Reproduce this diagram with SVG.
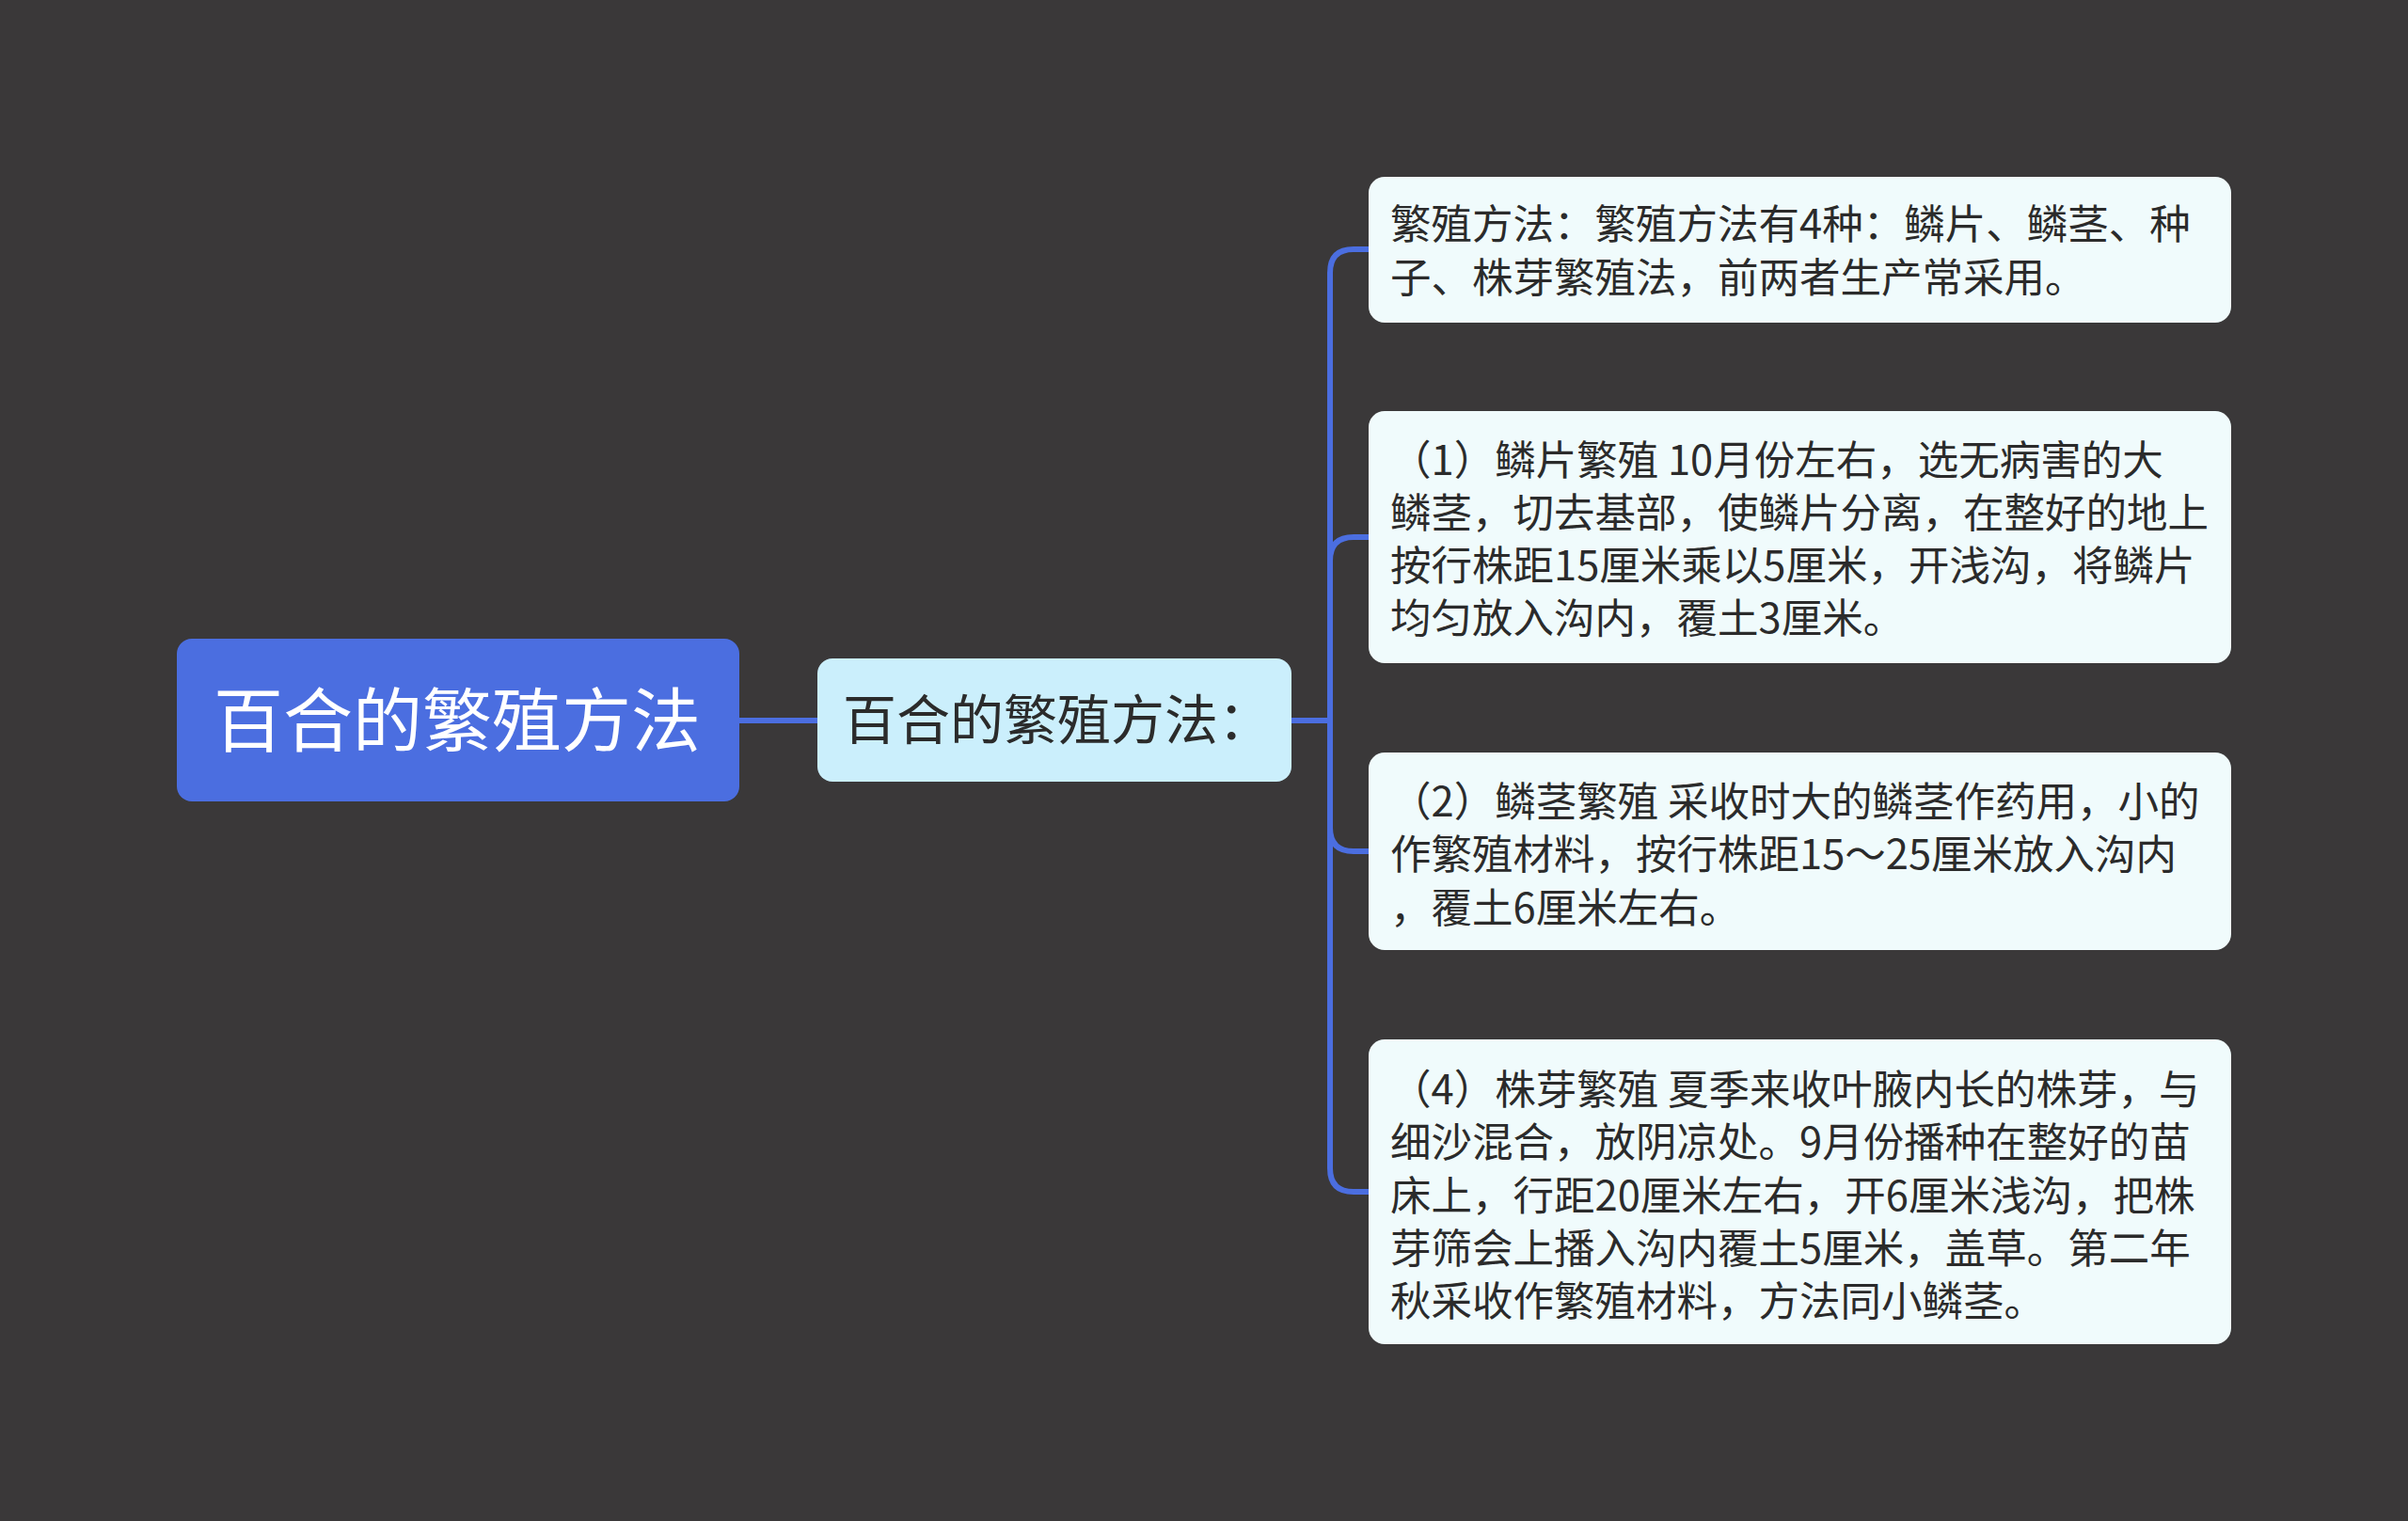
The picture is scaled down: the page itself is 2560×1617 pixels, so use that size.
<svg xmlns="http://www.w3.org/2000/svg" width="2560" height="1617" viewBox="0 0 2560 1617">
<defs>
<style>
.bg{fill:#3a3839}
.conn{fill:none;stroke:#4b6ee0;stroke-width:6;stroke-linejoin:round}
.root{fill:#4b6ee0}
.mid{fill:#cbeffc}
.leaf{fill:#f0fbfc}
.t{font-family:"Noto Sans CJK SC","Noto Sans",sans-serif}
.rt{fill:#ffffff;font-size:74px}
.mt{fill:#2b2b2b;font-size:57px}
.lt{fill:#2b2b2b;font-size:43.5px}
</style>
</defs>
<rect class="bg" x="0" y="0" width="2560" height="1617"/>
<g id="connectors">
<path class="conn" d="M786 766 H869"/>
<path class="conn" d="M1373 766 H1414"/>
<path class="conn" d="M1455 265 H1439 Q1414 265 1414 290 V1242 Q1414 1267 1439 1267 H1455"/>
<path class="conn" d="M1414 596 Q1414 571 1439 571 H1455"/>
<path class="conn" d="M1414 880 Q1414 905 1439 905 H1455"/>
</g>
<g id="root">
<rect class="root" x="188" y="679" width="598" height="173" rx="16"/>
<text class="t rt" x="227" y="793">百合的繁殖方法</text>
</g>
<g id="mid">
<rect class="mid" x="869" y="700" width="504" height="131" rx="16"/>
<text class="t mt" x="896" y="786">百合的繁殖方法：</text>
</g>
<g id="leaf1">
<rect class="leaf" x="1455" y="188" width="917" height="155" rx="17"/>
<text class="t lt" x="1478" y="254">繁殖方法：繁殖方法有4种：鳞片、鳞茎、种</text>
<text class="t lt" x="1478" y="311">子、株芽繁殖法，前两者生产常采用。</text>
</g>
<g id="leaf2">
<rect class="leaf" x="1455" y="437" width="917" height="268" rx="17"/>
<text class="t lt" x="1478" y="505">（1）鳞片繁殖 10月份左右，选无病害的大</text>
<text class="t lt" x="1478" y="561">鳞茎，切去基部，使鳞片分离，在整好的地上</text>
<text class="t lt" x="1478" y="617">按行株距15厘米乘以5厘米，开浅沟，将鳞片</text>
<text class="t lt" x="1478" y="673">均匀放入沟内，覆土3厘米。</text>
</g>
<g id="leaf3">
<rect class="leaf" x="1455" y="800" width="917" height="210" rx="17"/>
<text class="t lt" x="1478" y="868">（2）鳞茎繁殖 采收时大的鳞茎作药用，小的</text>
<text class="t lt" x="1478" y="924">作繁殖材料，按行株距15～25厘米放入沟内</text>
<text class="t lt" x="1478" y="981">，覆土6厘米左右。</text>
</g>
<g id="leaf4">
<rect class="leaf" x="1455" y="1105" width="917" height="324" rx="17"/>
<text class="t lt" x="1478" y="1174">（4）株芽繁殖 夏季来收叶腋内长的株芽，与</text>
<text class="t lt" x="1478" y="1230">细沙混合，放阴凉处。9月份播种在整好的苗</text>
<text class="t lt" x="1478" y="1287">床上，行距20厘米左右，开6厘米浅沟，把株</text>
<text class="t lt" x="1478" y="1343">芽筛会上播入沟内覆土5厘米，盖草。第二年</text>
<text class="t lt" x="1478" y="1399">秋采收作繁殖材料，方法同小鳞茎。</text>
</g>
</svg>
